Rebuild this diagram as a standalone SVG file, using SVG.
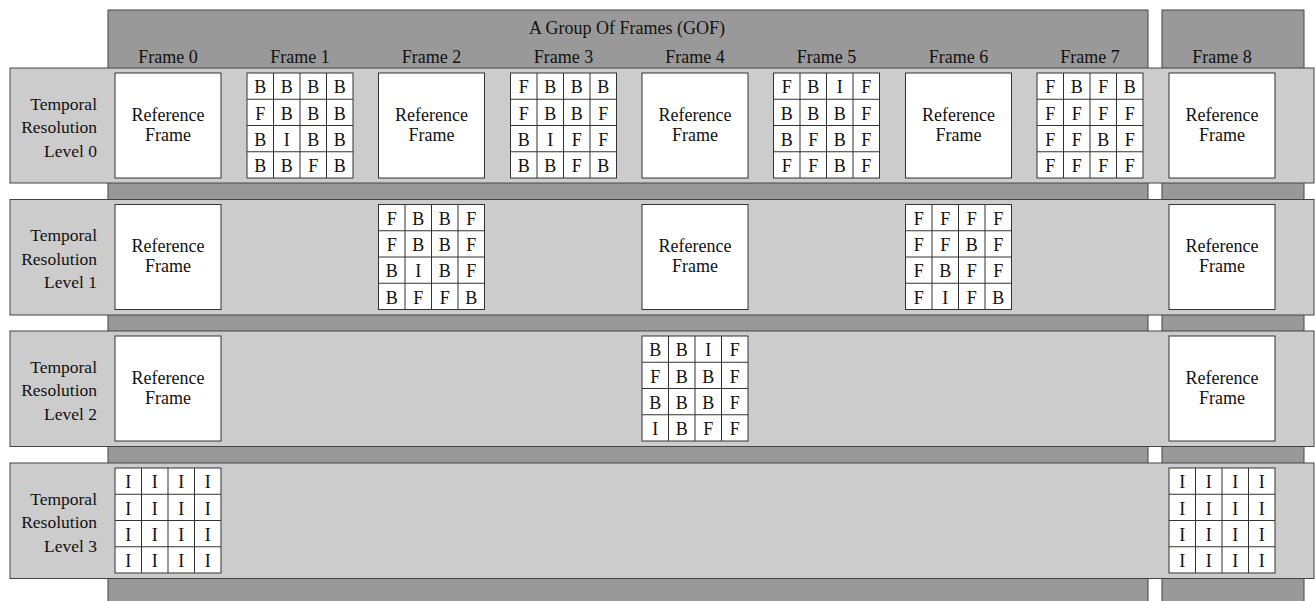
<svg xmlns="http://www.w3.org/2000/svg" width="1315" height="601" viewBox="0 0 1315 601">
<style>
.col{fill:#999999;stroke:#444444;stroke-width:1}
.band{fill:#cccccc;stroke:#444444;stroke-width:1}
.box{fill:#ffffff;stroke:#333333;stroke-width:1}
.gl{stroke:#333333;stroke-width:1;fill:none}
text{font-family:"Liberation Serif","Times New Roman",serif;fill:#111111}
.hd{font-size:18px;text-anchor:middle}
.lb{font-size:17.5px;text-anchor:end}
.rf{font-size:18px;text-anchor:middle}
.c{font-size:18px;text-anchor:middle}
</style>
<defs>
<g id="ref">
<rect class="box" x="0" y="0" width="106" height="105"/>
<text class="rf" x="53" y="47.5">Reference</text>
<text class="rf" x="53" y="67.5">Frame</text>
</g>
<g id="grid">
<rect class="box" x="0" y="0" width="106" height="105"/>
<path class="gl" d="M26.5,0V105M53,0V105M79.5,0V105M0,26.25H106M0,52.5H106M0,78.75H106"/>
</g>
</defs>
<g id="columns">
<rect class="col" x="108" y="10" width="1040" height="600"/>
<rect class="col" x="1162" y="10" width="142" height="600"/>
<text class="hd" x="627" y="34">A Group Of Frames (GOF)</text>
<text class="hd" x="168" y="63">Frame 0</text>
<text class="hd" x="300" y="63">Frame 1</text>
<text class="hd" x="431.5" y="63">Frame 2</text>
<text class="hd" x="563.5" y="63">Frame 3</text>
<text class="hd" x="695" y="63">Frame 4</text>
<text class="hd" x="826.5" y="63">Frame 5</text>
<text class="hd" x="958.5" y="63">Frame 6</text>
<text class="hd" x="1090" y="63">Frame 7</text>
<text class="hd" x="1222" y="63">Frame 8</text>
</g>
<g id="level0">
<rect class="band" x="10" y="68" width="1304" height="115"/>
<text class="lb" x="97" y="109.5">Temporal</text>
<text class="lb" x="97" y="133">Resolution</text>
<text class="lb" x="97" y="156.5">Level 0</text>
<use href="#ref" x="115" y="73"/>
<g transform="translate(247,73)"><use href="#grid"/>
<text class="c" x="13.25" y="20">B</text><text class="c" x="39.75" y="20">B</text><text class="c" x="66.25" y="20">B</text><text class="c" x="92.75" y="20">B</text>
<text class="c" x="13.25" y="46.5">F</text><text class="c" x="39.75" y="46.5">B</text><text class="c" x="66.25" y="46.5">B</text><text class="c" x="92.75" y="46.5">B</text>
<text class="c" x="13.25" y="72.5">B</text><text class="c" x="39.75" y="72.5">I</text><text class="c" x="66.25" y="72.5">B</text><text class="c" x="92.75" y="72.5">B</text>
<text class="c" x="13.25" y="99">B</text><text class="c" x="39.75" y="99">B</text><text class="c" x="66.25" y="99">F</text><text class="c" x="92.75" y="99">B</text>
</g>
<use href="#ref" x="378.5" y="73"/>
<g transform="translate(510.5,73)"><use href="#grid"/>
<text class="c" x="13.25" y="20">F</text><text class="c" x="39.75" y="20">B</text><text class="c" x="66.25" y="20">B</text><text class="c" x="92.75" y="20">B</text>
<text class="c" x="13.25" y="46.5">F</text><text class="c" x="39.75" y="46.5">B</text><text class="c" x="66.25" y="46.5">B</text><text class="c" x="92.75" y="46.5">F</text>
<text class="c" x="13.25" y="72.5">B</text><text class="c" x="39.75" y="72.5">I</text><text class="c" x="66.25" y="72.5">F</text><text class="c" x="92.75" y="72.5">F</text>
<text class="c" x="13.25" y="99">B</text><text class="c" x="39.75" y="99">B</text><text class="c" x="66.25" y="99">F</text><text class="c" x="92.75" y="99">B</text>
</g>
<use href="#ref" x="642" y="73"/>
<g transform="translate(773.5,73)"><use href="#grid"/>
<text class="c" x="13.25" y="20">F</text><text class="c" x="39.75" y="20">B</text><text class="c" x="66.25" y="20">I</text><text class="c" x="92.75" y="20">F</text>
<text class="c" x="13.25" y="46.5">B</text><text class="c" x="39.75" y="46.5">B</text><text class="c" x="66.25" y="46.5">B</text><text class="c" x="92.75" y="46.5">F</text>
<text class="c" x="13.25" y="72.5">B</text><text class="c" x="39.75" y="72.5">F</text><text class="c" x="66.25" y="72.5">B</text><text class="c" x="92.75" y="72.5">F</text>
<text class="c" x="13.25" y="99">F</text><text class="c" x="39.75" y="99">F</text><text class="c" x="66.25" y="99">B</text><text class="c" x="92.75" y="99">F</text>
</g>
<use href="#ref" x="905.5" y="73"/>
<g transform="translate(1037,73)"><use href="#grid"/>
<text class="c" x="13.25" y="20">F</text><text class="c" x="39.75" y="20">B</text><text class="c" x="66.25" y="20">F</text><text class="c" x="92.75" y="20">B</text>
<text class="c" x="13.25" y="46.5">F</text><text class="c" x="39.75" y="46.5">F</text><text class="c" x="66.25" y="46.5">F</text><text class="c" x="92.75" y="46.5">F</text>
<text class="c" x="13.25" y="72.5">F</text><text class="c" x="39.75" y="72.5">F</text><text class="c" x="66.25" y="72.5">B</text><text class="c" x="92.75" y="72.5">F</text>
<text class="c" x="13.25" y="99">F</text><text class="c" x="39.75" y="99">F</text><text class="c" x="66.25" y="99">F</text><text class="c" x="92.75" y="99">F</text>
</g>
<use href="#ref" x="1169" y="73"/>
</g>
<g id="level1">
<rect class="band" x="10" y="199.5" width="1304" height="115.5"/>
<text class="lb" x="97" y="241">Temporal</text>
<text class="lb" x="97" y="264.5">Resolution</text>
<text class="lb" x="97" y="288">Level 1</text>
<use href="#ref" x="115" y="204.5"/>
<g transform="translate(378.5,204.5)"><use href="#grid"/>
<text class="c" x="13.25" y="20">F</text><text class="c" x="39.75" y="20">B</text><text class="c" x="66.25" y="20">B</text><text class="c" x="92.75" y="20">F</text>
<text class="c" x="13.25" y="46.5">F</text><text class="c" x="39.75" y="46.5">B</text><text class="c" x="66.25" y="46.5">B</text><text class="c" x="92.75" y="46.5">F</text>
<text class="c" x="13.25" y="72.5">B</text><text class="c" x="39.75" y="72.5">I</text><text class="c" x="66.25" y="72.5">B</text><text class="c" x="92.75" y="72.5">F</text>
<text class="c" x="13.25" y="99">B</text><text class="c" x="39.75" y="99">F</text><text class="c" x="66.25" y="99">F</text><text class="c" x="92.75" y="99">B</text>
</g>
<use href="#ref" x="642" y="204.5"/>
<g transform="translate(905.5,204.5)"><use href="#grid"/>
<text class="c" x="13.25" y="20">F</text><text class="c" x="39.75" y="20">F</text><text class="c" x="66.25" y="20">F</text><text class="c" x="92.75" y="20">F</text>
<text class="c" x="13.25" y="46.5">F</text><text class="c" x="39.75" y="46.5">F</text><text class="c" x="66.25" y="46.5">B</text><text class="c" x="92.75" y="46.5">F</text>
<text class="c" x="13.25" y="72.5">F</text><text class="c" x="39.75" y="72.5">B</text><text class="c" x="66.25" y="72.5">F</text><text class="c" x="92.75" y="72.5">F</text>
<text class="c" x="13.25" y="99">F</text><text class="c" x="39.75" y="99">I</text><text class="c" x="66.25" y="99">F</text><text class="c" x="92.75" y="99">B</text>
</g>
<use href="#ref" x="1169" y="204.5"/>
</g>
<g id="level2">
<rect class="band" x="10" y="331" width="1304" height="115.5"/>
<text class="lb" x="97" y="372.5">Temporal</text>
<text class="lb" x="97" y="396">Resolution</text>
<text class="lb" x="97" y="419.5">Level 2</text>
<use href="#ref" x="115" y="336"/>
<g transform="translate(642,336)"><use href="#grid"/>
<text class="c" x="13.25" y="20">B</text><text class="c" x="39.75" y="20">B</text><text class="c" x="66.25" y="20">I</text><text class="c" x="92.75" y="20">F</text>
<text class="c" x="13.25" y="46.5">F</text><text class="c" x="39.75" y="46.5">B</text><text class="c" x="66.25" y="46.5">B</text><text class="c" x="92.75" y="46.5">F</text>
<text class="c" x="13.25" y="72.5">B</text><text class="c" x="39.75" y="72.5">B</text><text class="c" x="66.25" y="72.5">B</text><text class="c" x="92.75" y="72.5">F</text>
<text class="c" x="13.25" y="99">I</text><text class="c" x="39.75" y="99">B</text><text class="c" x="66.25" y="99">F</text><text class="c" x="92.75" y="99">F</text>
</g>
<use href="#ref" x="1169" y="336"/>
</g>
<g id="level3">
<rect class="band" x="10" y="463" width="1304" height="115.5"/>
<text class="lb" x="97" y="504.5">Temporal</text>
<text class="lb" x="97" y="528">Resolution</text>
<text class="lb" x="97" y="551.5">Level 3</text>
<g transform="translate(115,468)"><use href="#grid"/>
<text class="c" x="13.25" y="20">I</text><text class="c" x="39.75" y="20">I</text><text class="c" x="66.25" y="20">I</text><text class="c" x="92.75" y="20">I</text>
<text class="c" x="13.25" y="46.5">I</text><text class="c" x="39.75" y="46.5">I</text><text class="c" x="66.25" y="46.5">I</text><text class="c" x="92.75" y="46.5">I</text>
<text class="c" x="13.25" y="72.5">I</text><text class="c" x="39.75" y="72.5">I</text><text class="c" x="66.25" y="72.5">I</text><text class="c" x="92.75" y="72.5">I</text>
<text class="c" x="13.25" y="99">I</text><text class="c" x="39.75" y="99">I</text><text class="c" x="66.25" y="99">I</text><text class="c" x="92.75" y="99">I</text>
</g>
<g transform="translate(1169,468)"><use href="#grid"/>
<text class="c" x="13.25" y="20">I</text><text class="c" x="39.75" y="20">I</text><text class="c" x="66.25" y="20">I</text><text class="c" x="92.75" y="20">I</text>
<text class="c" x="13.25" y="46.5">I</text><text class="c" x="39.75" y="46.5">I</text><text class="c" x="66.25" y="46.5">I</text><text class="c" x="92.75" y="46.5">I</text>
<text class="c" x="13.25" y="72.5">I</text><text class="c" x="39.75" y="72.5">I</text><text class="c" x="66.25" y="72.5">I</text><text class="c" x="92.75" y="72.5">I</text>
<text class="c" x="13.25" y="99">I</text><text class="c" x="39.75" y="99">I</text><text class="c" x="66.25" y="99">I</text><text class="c" x="92.75" y="99">I</text>
</g>
</g>
</svg>
